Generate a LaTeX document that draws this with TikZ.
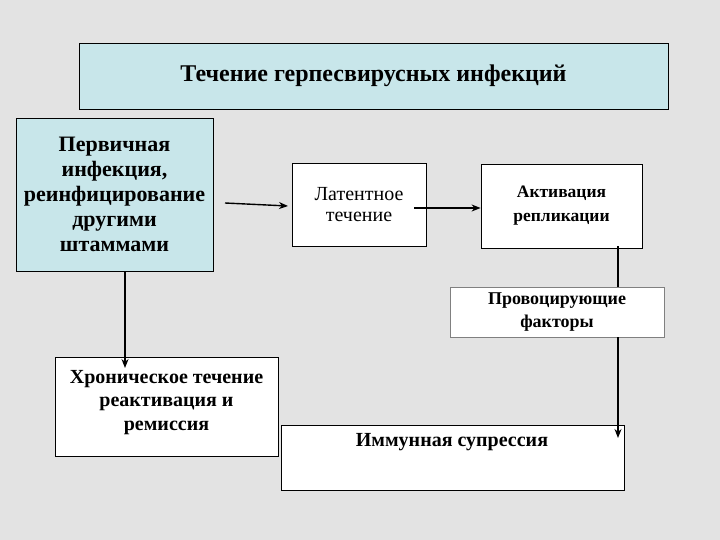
\documentclass[tikz,border=0pt]{standalone}
\usepackage{fontspec}
\setmainfont{Liberation Serif}
\usetikzlibrary{arrows.meta}
\definecolor{lb}{RGB}{200,230,234}
\begin{document}
\begin{tikzpicture}[x=1pt,y=-1pt,
  box/.style={draw=black,line width=0.8pt,align=center,inner sep=0pt},
  wbox/.style={fill=white},
  arr/.style={line width=1.4pt,-{Stealth[length=9pt,width=7pt]}}]
\fill[gray!22] (0,0) rectangle (720,540);
\useasboundingbox (0,0) rectangle (720,540);
\node[box,fill=lb,minimum width=589pt,minimum height=66pt,font=\fontsize{24}{26}\selectfont\bfseries] (t) at (373.5,76) {Течение герпесвирусных инфекций};
\node[box,fill=lb,minimum width=197pt,minimum height=153pt,font=\fontsize{22}{25}\selectfont\bfseries] (p) at (114.5,194.5) {Первичная\\ инфекция,\\ реинфицирование\\ другими\\ штаммами};
\node[box,wbox,minimum width=134pt,minimum height=83pt,font=\fontsize{20}{21}\selectfont] (l) at (359,204.5) {Латентное\\ течение};
\node[box,wbox,minimum width=161pt,minimum height=84pt,font=\fontsize{17.5}{24}\selectfont\bfseries] (a) at (561.5,206) {Активация\\ репликации};
\node[box,wbox,draw=gray,minimum width=214pt,minimum height=50pt,font=\fontsize{18}{23}\selectfont\bfseries] (f) at (557,312) {Провоцирующие\\ факторы};
\node[box,wbox,minimum width=223pt,minimum height=99pt,anchor=north] (c) at (166.5,357) {};
\node[align=center,anchor=north,inner sep=0pt,font=\fontsize{20}{23.5}\selectfont\bfseries] (ct) at (166.5,370) {Хроническое течение\\ реактивация и\\ ремиссия};
\node[box,wbox,minimum width=343pt,minimum height=65pt] (i) at (452.5,457.5) {};
\node[font=\fontsize{20}{22}\selectfont\bfseries] (it) at (452,442) {Иммунная супрессия};
\coordinate (s1) at (225,203);
\coordinate (e1) at (288,206);
\draw[arr] (s1) -- (e1);
\draw[arr] (414,208) -- (a.west|-0,208);
\draw[line width=1.4pt] (618,246) -- (618,287);
\draw[arr] (618,337) -- (618,438);
\draw[arr] (125,271) -- (125,368);
\end{tikzpicture}
\end{document}
